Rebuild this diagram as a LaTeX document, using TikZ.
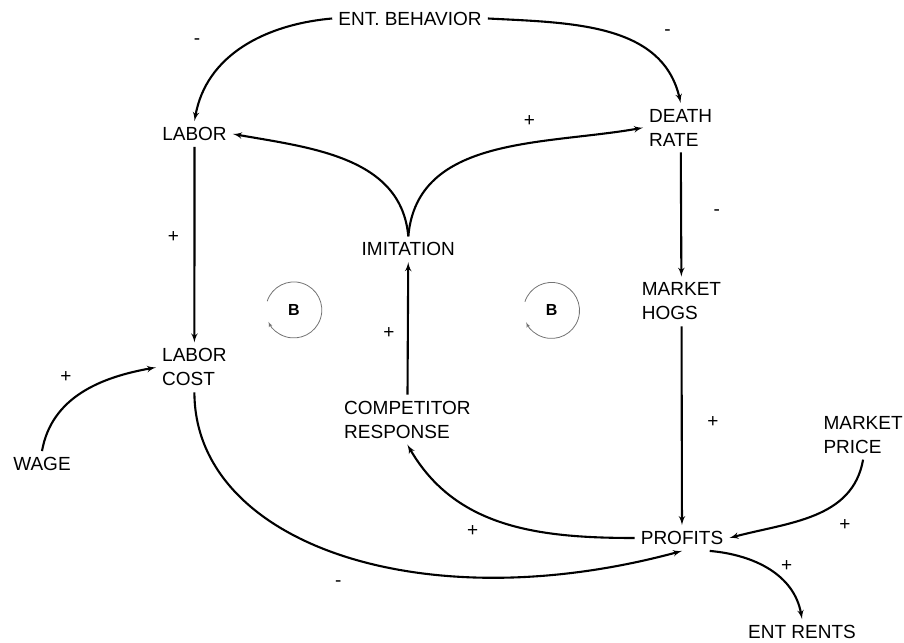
\documentclass[tikz,border=0pt]{standalone}
\usepackage{fontspec}
\setmainfont{Liberation Sans}
\usepackage{tikz}
\usetikzlibrary{arrows, positioning}

\begin{document}
\begin{tikzpicture}[x=1pt, y=1pt,
        var/.style={font=\fontsize{19}{24}\selectfont, inner sep=6pt, align=left},
        sign/.style={font=\fontsize{19}{24}\selectfont, inner sep=0pt},
        loopsign/.style={circle, minimum size=56pt, inner sep=0pt, font=\fontsize{16}{18}\selectfont\bfseries},
        line/.style={draw, -latex', line width=2.1pt},
        loopline/.style={draw, -latex', black!55, line width=0.8pt}]

    \useasboundingbox (0,0) rectangle (904,642);

    \node [var] (ent) at (410,623.5) {ENT. BEHAVIOR};
    \node [var] (labor) at (194.5,508) {LABOR};
    \node [var, anchor=north west] (death) at (643,539) {DEATH\\RATE};
    \node [var] (imit) at (408.3,392.7) {IMITATION};
    \node [var, anchor=north west] (mhogs) at (635.7,365.3) {MARKET\\HOGS};
    \node [var, anchor=north west] (lcost) at (156,299.5) {LABOR\\COST};
    \node [var, anchor=north west] (comp) at (338,247.3) {COMPETITOR\\RESPONSE};
    \node [var, anchor=north west] (mprice) at (817.3,232) {MARKET\\PRICE};
    \node [var] (wage) at (42,178) {WAGE};
    \node [var] (profits) at (682,104) {PROFITS};
    \node [var] (rents) at (802,10) {ENT RENTS};

    % balancing loops
    \node [loopsign] (loopa) at (294,332) {B};
    \node [loopsign] (loopb) at (551.7,331.5) {B};
    \path [loopline] (loopa.162) arc [start angle=162, end angle=-155, radius=28];
    \path [loopline] (loopb.162) arc [start angle=162, end angle=-155, radius=28];

    \path [line] (ent.west) to [out=185, in=80] (labor.north);
    \path [line] (ent.east) to [out=-3, in=103] (death.north);
    \path [line] (imit.north) to [out=95, in=-10] (labor.east);
    \path [line] (imit.north) to [out=85, in=-170] (death.west);
    \path [line] (labor) -- (lcost);
    \path [line] (death) -- (mhogs);
    \path [line] (comp) -- (imit);
    \path [line] (mhogs) -- (profits);
    \path [line] (wage.north) to [out=80, in=-170] (lcost.west);
    \path [line] (lcost.south) .. controls +(0,-150) and +(-262,-71) .. (profits.south);
    \path [line] (profits.west) to [out=180, in=-60] (comp.south);
    \path [line] (mprice.south) to [out=-100, in=15] (profits.east);
    \path [line] (profits.-25) to [out=-5, in=100] (rents.north);

    % polarities
    \node [sign] (pol1) at (197,600) {-};
    \node [sign] (pol2) at (667.5,609) {-};
    \node [sign] (pol3) at (529.3,521.3) {+};
    \node [sign] (pol4) at (173.3,405.3) {+};
    \node [sign] (pol5) at (716.7,429.3) {-};
    \node [sign] (pol6) at (389,309) {+};
    \node [sign] (pol7) at (713,220) {+};
    \node [sign] (pol8) at (66,265) {+};
    \node [sign] (pol9) at (338.3,58.7) {-};
    \node [sign] (pol10) at (472.7,111.3) {+};
    \node [sign] (pol11) at (845,117) {+};
    \node [sign] (pol12) at (786.7,76) {+};
\end{tikzpicture}
\end{document}
